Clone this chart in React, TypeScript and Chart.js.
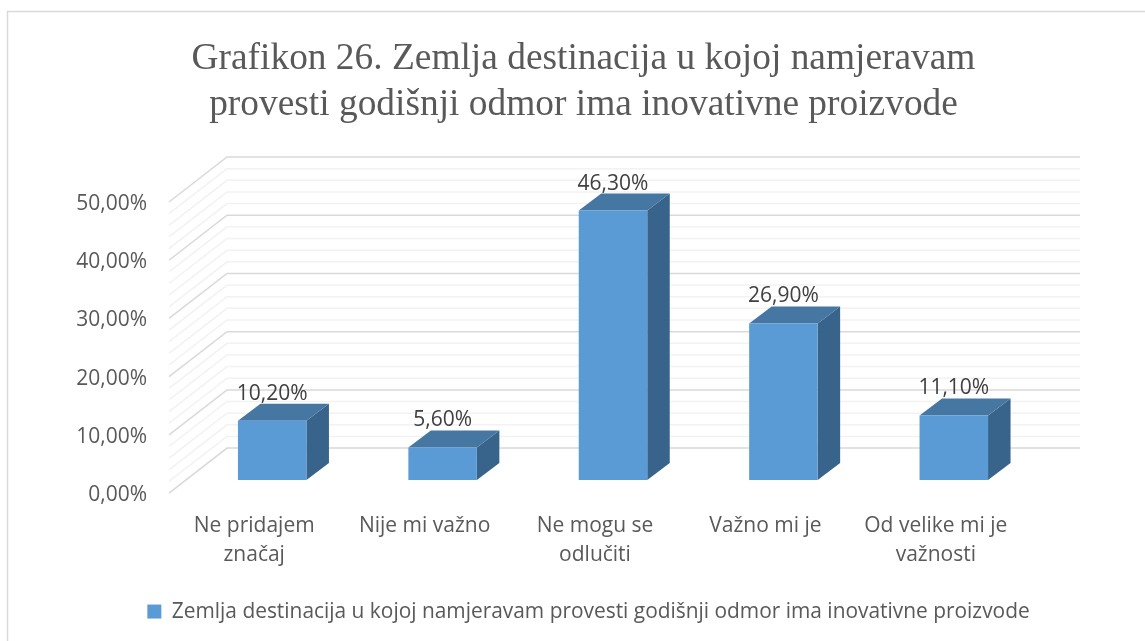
import React, { useEffect, useRef } from "react";
import { Chart, registerables } from "chart.js";

Chart.register(...registerables);

const categories = [["Ne pridajem", "značaj"], ["Nije mi važno"], ["Ne mogu se", "odlučiti"], ["Važno mi je"], ["Od velike mi je", "važnosti"]];
const seriesName = "Zemlja destinacija u kojoj namjeravam provesti godišnji odmor ima inovativne proizvode";
const seriesValues = [10.2, 5.6, 46.3, 26.9, 11.1];
const titleLines = ["Grafikon 26. Zemlja destinacija u kojoj namjeravam", "provesti godišnji odmor ima inovativne proizvode"];

const pct = (v: number) => v.toFixed(2).replace(".", ",") + "%";
const SANS = "'Open Sans'";

const depthPlugin = {
  id: "depth",
  afterLayout(chart: any) {
    chart.titleBlock.left += 34;
    chart.titleBlock.right += 34;
    chart.legend.left += 39;
    chart.legend.right += 39;
  },
  beforeDatasetsDraw(chart: any) {
    const { ctx, chartArea, scales } = chart;
    const y = scales.y;
    ctx.save();
    for (const t of y.ticks) {
      const p = y.getPixelForValue(t.value);
      const major = t.value % 10 === 0;
      ctx.strokeStyle = major ? "#d9d9d9" : "#f2f2f2";
      ctx.lineWidth = 1.5;
      ctx.beginPath();
      ctx.moveTo(chartArea.left - 18, p + 13);
      ctx.lineTo(chartArea.left + 40, p - 32);
      ctx.lineTo(chartArea.right + 41, p - 32);
      ctx.stroke();
    }
    const dx = 22.5;
    const dy = 17;
    for (const bar of chart.getDatasetMeta(0).data) {
      const l = bar.x - bar.width / 2;
      const r = bar.x + bar.width / 2;
      ctx.fillStyle = "#38648b";
      ctx.beginPath();
      ctx.moveTo(r, bar.y);
      ctx.lineTo(r + dx, bar.y - dy);
      ctx.lineTo(r + dx, bar.base - dy);
      ctx.lineTo(r, bar.base);
      ctx.closePath();
      ctx.fill();
      ctx.fillStyle = "#4676a2";
      ctx.beginPath();
      ctx.moveTo(l, bar.y);
      ctx.lineTo(l + dx, bar.y - dy);
      ctx.lineTo(r + dx, bar.y - dy);
      ctx.lineTo(r, bar.y);
      ctx.closePath();
      ctx.fill();
    }
    ctx.restore();
  },
  afterDatasetsDraw(chart: any) {
    const { ctx } = chart;
    ctx.save();
    ctx.fillStyle = "#404040";
    ctx.font = `21px ${SANS}`;
    ctx.textAlign = "center";
    ctx.textBaseline = "middle";
    chart.getDatasetMeta(0).data.forEach((bar: any, i: number) => {
      ctx.fillText(pct(seriesValues[i]), bar.x, bar.y - 27);
    });
    ctx.restore();
  },
};

const framePlugin = {
  id: "frame",
  beforeDraw(chart: any) {
    const { ctx } = chart;
    ctx.save();
    ctx.fillStyle = "#ffffff";
    ctx.fillRect(0, 0, chart.width, chart.height);
    ctx.strokeStyle = "#d9d9d9";
    ctx.lineWidth = 1.5;
    ctx.beginPath();
    ctx.moveTo(7.5, 641);
    ctx.lineTo(7.5, 11.5);
    ctx.lineTo(1145, 11.5);
    ctx.stroke();
    ctx.restore();
  },
};

export default function App() {
  const ref = useRef<HTMLCanvasElement>(null);
  useEffect(() => {
    const chart = new Chart(ref.current as HTMLCanvasElement, {
      type: "bar",
      data: {
        labels: categories as any,
        datasets: [
          {
            label: seriesName,
            data: seriesValues,
            backgroundColor: "#5b9bd5",
            categoryPercentage: 1,
            barPercentage: 0.402,
          },
        ],
      },
      plugins: [framePlugin, depthPlugin],
      options: {
        animation: false,
        responsive: false,
        layout: { padding: { left: 60, right: 106, top: 0, bottom: 9 } },
        plugins: {
          tooltip: { enabled: false },
          title: {
            display: true,
            text: titleLines,
            color: "#595959",
            font: { family: "'Liberation Serif'", size: 37.4, weight: "normal", lineHeight: 1.23 },
            padding: { top: 36, bottom: 61 },
          },
          legend: {
            position: "bottom",
            labels: {
              color: "#595959",
              font: { family: SANS, size: 20.9 },
              boxWidth: 14,
              boxHeight: 14,
              padding: 8,
              generateLabels: () => [
                { text: seriesName, fillStyle: "#5b9bd5", strokeStyle: "#5b9bd5", fontColor: "#595959", lineWidth: 0, datasetIndex: 0 },
              ],
            },
          },
        },
        scales: {
          x: {
            grid: { display: false },
            border: { display: false },
            ticks: {
              color: "#595959",
              font: { family: SANS, size: 21, lineHeight: 1.4 },
              padding: 23,
              labelOffset: -18,
              maxRotation: 0,
              autoSkip: false,
            },
            afterFit(s: any) {
              s.height = 113;
            },
          },
          y: {
            min: 0,
            max: 50,
            grid: { display: false },
            border: { display: false },
            ticks: {
              stepSize: 2,
              autoSkip: false,
              color: "#595959",
              labelOffset: 15,
              padding: 32,
              font: { family: SANS, size: 21 },
              callback: (v: any) => (v % 10 === 0 ? pct(Number(v)) : ""),
            },
            afterFit(s: any) {
              s.width = 127;
            },
          },
        },
      },
    } as any);
    return () => chart.destroy();
  }, []);
  return (
    <div style={{ position: "absolute", left: 0, top: 0, width: 1145, height: 641 }}>
      <canvas ref={ref} width={1145} height={641} style={{ display: "block" }} />
    </div>
  );
}
